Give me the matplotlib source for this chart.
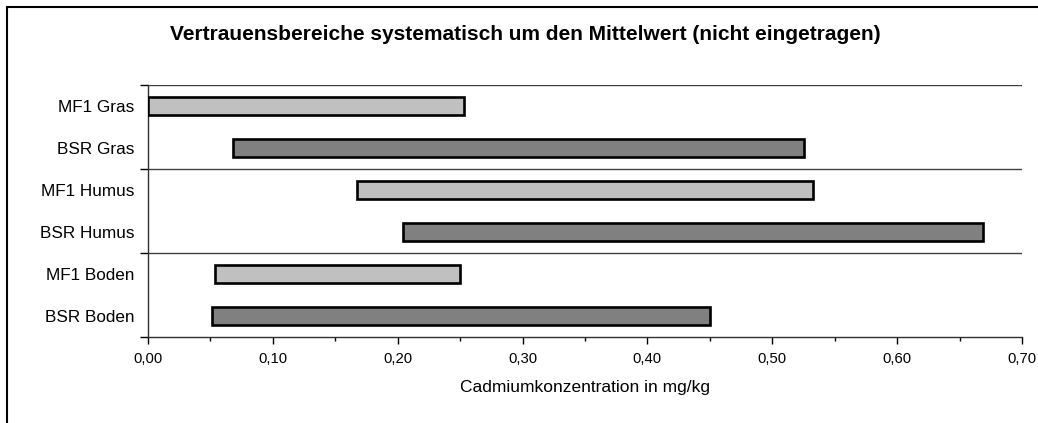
import matplotlib
matplotlib.use("Agg")
import matplotlib.pyplot as plt
from matplotlib.patches import Rectangle
from matplotlib.ticker import FuncFormatter, MultipleLocator, FixedLocator

plt.rcParams['font.family'] = ['Liberation Sans', 'DejaVu Sans']

# data (lower / upper end of each range, mg/kg)
labels = ["MF1 Gras", "BSR Gras", "MF1 Humus", "BSR Humus", "MF1 Boden", "BSR Boden"]
starts = [0.000, 0.068, 0.167, 0.204, 0.054, 0.051]
ends = [0.253, 0.525, 0.533, 0.669, 0.250, 0.450]
colors = ["#c0c0c0", "#808080", "#c0c0c0", "#808080", "#c0c0c0", "#808080"]

W, H = 1038, 423
fig = plt.figure(figsize=(W / 100, H / 100), dpi=100)
ax = fig.add_axes([148 / W, 1 - 337 / H, (1022 - 148) / W, (337 - 85) / H])

rows = [i + 0.5 for i in range(len(labels))]
widths = [e - s for s, e in zip(starts, ends)]
ax.barh(rows, widths, left=starts, height=0.41, color=colors,
        edgecolor="black", linewidth=1.9, zorder=3)

ax.set_xlim(0, 0.70)
ax.set_ylim(6, 0)

# x axis: labelled every 0.1, small ticks every 0.05
ax.xaxis.set_major_locator(MultipleLocator(0.1))
ax.xaxis.set_minor_locator(MultipleLocator(0.05))
ax.xaxis.set_major_formatter(FuncFormatter(lambda v, p: f"{v:.2f}".replace(".", ",")))
ax.tick_params(axis="x", which="major", direction="out", length=5, width=1,
               labelsize=10.7, pad=6, color="black")
ax.tick_params(axis="x", which="minor", direction="out", length=3, width=1, color="black")

# y axis: ticks at group borders, labels at row centres
ax.yaxis.set_major_locator(FixedLocator([0, 2, 4, 6]))
ax.yaxis.set_minor_locator(FixedLocator(rows))
ax.set_yticklabels([], minor=False)
ax.set_yticklabels(labels, minor=True)
ax.tick_params(axis="y", which="major", direction="out", length=6, width=1)
ax.tick_params(axis="y", which="minor", length=0, labelsize=12.3, pad=10)

for y in [0, 2, 4]:
    ax.axhline(y, color="#404040", linewidth=1.0, zorder=1)

for s in ["top", "right"]:
    ax.spines[s].set_visible(False)
ax.spines["left"].set_color("#303030")
ax.spines["bottom"].set_color("#303030")
ax.spines["left"].set_linewidth(1.0)
ax.spines["bottom"].set_linewidth(1.0)

ax.set_xlabel("Cadmiumkonzentration in mg/kg", fontsize=12.5, labelpad=10)
fig.text(0.5 * (169 + 881) / W, 1 - 34 / H,
         "Vertrauensbereiche systematisch um den Mittelwert (nicht eingetragen)",
         ha="center", va="center", fontsize=15, fontweight="bold")

# outer chart frame (only left and top edges fall inside the image)
fig.patches.append(Rectangle((7 / W, -0.2), 2, 1.2 - 7 / H, transform=fig.transFigure,
                             fill=False, edgecolor="black", linewidth=1.5))

fig.savefig("out.png", dpi=100)
